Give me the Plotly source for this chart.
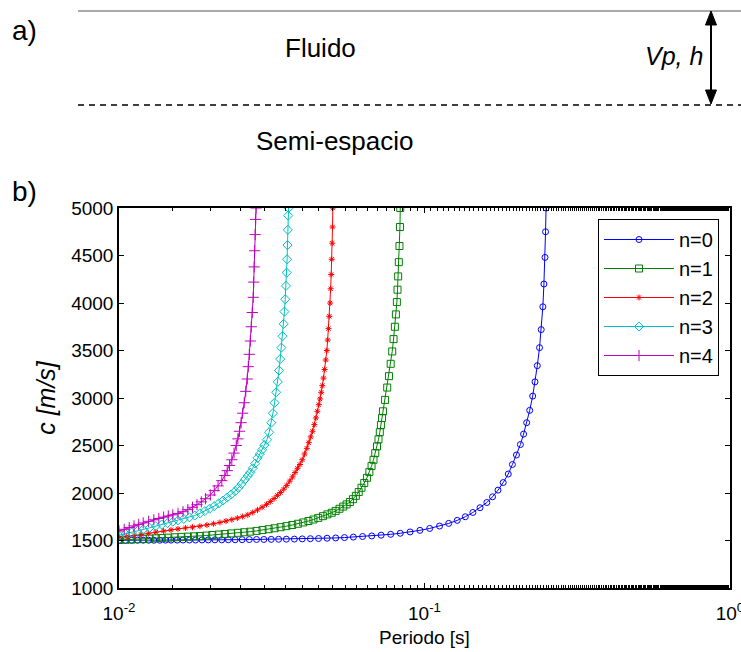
import plotly.graph_objects as go

# ---------------- data ----------------
T_n0 = [0.0100, 0.0105, 0.0110, 0.0115, 0.0120, 0.0125, 0.0130, 0.0136, 0.0142, 0.0148,
        0.0155, 0.0162, 0.0170, 0.0178, 0.0187, 0.0196, 0.0206, 0.0217, 0.0228, 0.0240,
        0.0253, 0.0267, 0.0282, 0.0298, 0.0315, 0.0333, 0.0353, 0.0375, 0.0398, 0.0423,
        0.0450, 0.0480, 0.0512, 0.0547, 0.0585, 0.0627, 0.0672, 0.0721, 0.0775, 0.0833,
        0.0897, 0.0966, 0.104, 0.112, 0.120, 0.128, 0.136, 0.144, 0.152, 0.160,
        0.167, 0.174, 0.181, 0.188, 0.194, 0.200, 0.206, 0.211, 0.216, 0.221,
        0.226, 0.230, 0.234, 0.238, 0.241, 0.244, 0.246, 0.248, 0.249, 0.250]
c_n0 = [1502, 1502, 1502, 1503, 1503, 1503, 1503, 1503, 1504, 1504,
        1504, 1505, 1505, 1505, 1506, 1506, 1507, 1507, 1508, 1508,
        1509, 1510, 1511, 1511, 1512, 1513, 1514, 1515, 1517, 1519,
        1521, 1524, 1527, 1531, 1536, 1542, 1548, 1556, 1565, 1576,
        1590, 1607, 1627, 1652, 1680, 1712, 1750, 1795, 1845, 1900,
        1960, 2030, 2110, 2200, 2300, 2400, 2510, 2620, 2740, 2870,
        3020, 3170, 3340, 3530, 3720, 3960, 4200, 4480, 4750, 5000]

T_n1 = [0.0100, 0.0105, 0.0110, 0.0115, 0.0120, 0.0126, 0.0132, 0.0138, 0.0145, 0.0152,
        0.0160, 0.0168, 0.0176, 0.0184, 0.0193, 0.0202, 0.0212, 0.0222, 0.0233, 0.0245,
        0.0257, 0.0269, 0.0282, 0.0295, 0.0309, 0.0323, 0.0338, 0.0353, 0.0369, 0.0385,
        0.0401, 0.0417, 0.0433, 0.0449, 0.0465, 0.0481, 0.0497, 0.0512, 0.0527, 0.0542,
        0.0556, 0.0570, 0.0583, 0.0596, 0.0609, 0.0622, 0.0635, 0.0648, 0.0660, 0.0671,
        0.0681, 0.0690, 0.0699, 0.0707, 0.0714, 0.0720, 0.0726, 0.0731, 0.0743, 0.0755,
        0.0765, 0.0775, 0.0784, 0.0792, 0.0800, 0.0806, 0.0812, 0.0816, 0.0820, 0.0824,
        0.0828, 0.0831, 0.0833]
c_n1 = [1505, 1508, 1511, 1514, 1517, 1520, 1523, 1527, 1530, 1534,
        1538, 1541, 1544, 1547, 1552, 1558, 1563, 1569, 1575, 1581,
        1587, 1593, 1601, 1610, 1619, 1629, 1640, 1651, 1663, 1676,
        1690, 1705, 1721, 1738, 1756, 1775, 1792, 1812, 1834, 1857,
        1880, 1905, 1935, 1970, 2010, 2055, 2105, 2160, 2220, 2285,
        2350, 2420, 2490, 2565, 2640, 2715, 2790, 2860, 2980, 3110,
        3230, 3360, 3490, 3620, 3750, 3880, 4010, 4140, 4280, 4430,
        4600, 4800, 5000]

T_n2 = [0.0100, 0.0106, 0.0112, 0.0118, 0.0125, 0.0132, 0.0140, 0.0148, 0.0156, 0.0165,
        0.0174, 0.0184, 0.0194, 0.0204, 0.0214, 0.0224, 0.0234, 0.0244, 0.0254, 0.0264,
        0.0274, 0.0284, 0.0294, 0.0304, 0.0313, 0.0322, 0.0330, 0.0338, 0.0346, 0.0354,
        0.0362, 0.0370, 0.0377, 0.0384, 0.0391, 0.0398, 0.0405, 0.0412, 0.0418, 0.0424,
        0.0430, 0.0436, 0.0441, 0.0446, 0.0451, 0.0455, 0.0459, 0.0463, 0.0467, 0.0471,
        0.0475, 0.0479, 0.0482, 0.0485, 0.0488, 0.0491, 0.0493, 0.0495, 0.0497, 0.0499,
        0.0500, 0.0501]
c_n2 = [1530, 1542, 1553, 1564, 1576, 1588, 1600, 1612, 1622, 1632,
        1640, 1650, 1663, 1676, 1690, 1705, 1720, 1736, 1752, 1770,
        1795, 1822, 1850, 1880, 1910, 1942, 1975, 2005, 2040, 2080,
        2125, 2170, 2215, 2260, 2300, 2350, 2410, 2470, 2530, 2590,
        2650, 2720, 2790, 2860, 2930, 2990, 3060, 3130, 3210, 3300,
        3400, 3500, 3610, 3730, 3860, 4000, 4150, 4300, 4460, 4630,
        4800, 5000]

T_n3 = [0.0100, 0.0105, 0.0110, 0.0115, 0.0120, 0.0126, 0.0132, 0.0138, 0.0144, 0.0150,
        0.0156, 0.0163, 0.0170, 0.0177, 0.0184, 0.0191, 0.0198, 0.0205, 0.0212, 0.0219,
        0.0226, 0.0233, 0.0240, 0.0246, 0.0252, 0.0258, 0.0264, 0.0269, 0.0274, 0.0279,
        0.0284, 0.0289, 0.0294, 0.0299, 0.0305, 0.0310, 0.0315, 0.0319, 0.0323, 0.0327,
        0.0331, 0.0334, 0.0337, 0.0340, 0.0343, 0.0346, 0.0348, 0.0350, 0.0352, 0.0354,
        0.0355, 0.0356, 0.0357, 0.0358, 0.0359]
c_n3 = [1555, 1570, 1585, 1600, 1616, 1634, 1652, 1668, 1683, 1698,
        1712, 1727, 1744, 1763, 1786, 1810, 1835, 1862, 1890, 1920,
        1952, 1985, 2020, 2055, 2095, 2140, 2180, 2215, 2260, 2310,
        2370, 2410, 2455, 2505, 2560, 2640, 2740, 2840, 2950, 3060,
        3170, 3290, 3410, 3530, 3650, 3780, 3910, 4040, 4180, 4320,
        4460, 4610, 4770, 4920, 5000]

T_n4 = [0.0100, 0.0104, 0.0108, 0.0112, 0.0116, 0.0120, 0.0125, 0.0130, 0.0135, 0.0140,
        0.0145, 0.0150, 0.0156, 0.0162, 0.0168, 0.0174, 0.0180, 0.0186, 0.0192, 0.0199,
        0.0205, 0.0211, 0.0217, 0.0222, 0.0226, 0.0230, 0.0234, 0.0238, 0.0242, 0.0245,
        0.0248, 0.0251, 0.0254, 0.0257, 0.0260, 0.0263, 0.0265, 0.0267, 0.0269, 0.0271,
        0.0273, 0.0275, 0.0276, 0.0277, 0.0278, 0.0279, 0.0280, 0.0281]
c_n4 = [1600, 1618, 1636, 1654, 1670, 1685, 1702, 1718, 1732, 1746,
        1758, 1770, 1785, 1803, 1825, 1850, 1877, 1907, 1940, 1979,
        2025, 2075, 2130, 2185, 2235, 2290, 2350, 2420, 2500, 2570,
        2650, 2740, 2840, 2950, 3070, 3200, 3330, 3460, 3600, 3750,
        3900, 4060, 4220, 4380, 4550, 4720, 4880, 5000]

mode_names = ["n=0", "n=1", "n=2", "n=3", "n=4"]
x_tickvals = [0.01, 0.1, 1]
x_ticktext = ["10<sup>-2</sup>", "10<sup>-1</sup>", "10<sup>0</sup>"]
y_tickvals = [1000, 1500, 2000, 2500, 3000, 3500, 4000, 4500, 5000]

# ---------------- styles ----------------
colors = ["#0000FF", "#008000", "#FF0000", "#00BFBF", "#BF00BF"]
symbols = ["circle-open", "square-open", "asterisk-open", "diamond-open", "cross-thin-open"]
sizes = [6, 7, 5, 7, 8]
FONT = "Liberation Sans, Arial, Helvetica, sans-serif"

W, H = 741, 652
PL, PR, PT, PB = 119, 730, 208, 588


def px(x):
    return (x - PL) / (PR - PL)


def py(y):
    return (PB - y) / (PB - PT)


fig = go.Figure()
series = [(T_n0, c_n0), (T_n1, c_n1), (T_n2, c_n2), (T_n3, c_n3), (T_n4, c_n4)]
for i, (T, c) in enumerate(series):
    fig.add_trace(go.Scatter(
        x=T, y=c, mode="lines+markers", name=mode_names[i],
        line=dict(color=colors[i], width=1),
        marker=dict(symbol=symbols[i], size=sizes[i], color=colors[i],
                    line=dict(width=1, color=colors[i])),
    ))

shapes = [
    dict(type="line", xref="paper", yref="paper", x0=px(78), x1=px(741), y0=py(11), y1=py(11),
         line=dict(color="#555555", width=1)),
    dict(type="line", xref="paper", yref="paper", x0=px(78), x1=px(741), y0=py(105), y1=py(105),
         line=dict(color="black", width=1.5, dash="6px,5px")),
    dict(type="line", xref="paper", yref="paper", x0=px(711), x1=px(711), y0=py(22), y1=py(94),
         line=dict(color="black", width=2)),
    dict(type="path", xref="paper", yref="paper",
         path=f"M {px(711)},{py(11)} L {px(705.5)},{py(25)} L {px(716.5)},{py(25)} Z",
         fillcolor="black", line=dict(color="black", width=1)),
    dict(type="path", xref="paper", yref="paper",
         path=f"M {px(711)},{py(104)} L {px(705.5)},{py(90)} L {px(716.5)},{py(90)} Z",
         fillcolor="black", line=dict(color="black", width=1)),
]

annotations = [
    dict(text="a)", x=px(10), y=py(30), xref="paper", yref="paper", xanchor="left", yanchor="middle",
         showarrow=False, font=dict(size=28, family=FONT, color="black")),
    dict(text="Fluido", x=px(320), y=py(48), xref="paper", yref="paper", xanchor="center", yanchor="middle",
         showarrow=False, font=dict(size=26, family=FONT, color="black")),
    dict(text="<i>Vp, h</i>", x=px(705), y=py(56), xref="paper", yref="paper", xanchor="right", yanchor="middle",
         showarrow=False, font=dict(size=25, family=FONT, color="black")),
    dict(text="Semi-espacio", x=px(335), y=py(141), xref="paper", yref="paper", xanchor="center", yanchor="middle",
         showarrow=False, font=dict(size=26, family=FONT, color="black")),
    dict(text="b)", x=px(10), y=py(191), xref="paper", yref="paper", xanchor="left", yanchor="middle",
         showarrow=False, font=dict(size=28, family=FONT, color="black")),
]

fig.update_layout(
    width=W, height=H,
    margin=dict(l=PL, r=W - PR, t=PT, b=H - PB, pad=0, autoexpand=False),
    paper_bgcolor="white", plot_bgcolor="white",
    font=dict(family=FONT, size=19, color="black"),
    shapes=shapes, annotations=annotations,
    legend=dict(x=px(598), y=py(219), xanchor="left", yanchor="top",
                bgcolor="white", bordercolor="black", borderwidth=1,
                font=dict(size=20, family=FONT, color="black"),
                itemwidth=70, tracegroupgap=0),
    showlegend=True,
)

fig.update_xaxes(
    type="log", range=[-2, 0], tickvals=x_tickvals, ticktext=x_ticktext,
    automargin=False,
    showline=True, linecolor="black", linewidth=1.5, mirror="ticks",
    ticks="inside", ticklen=5, tickcolor="black", showgrid=False, zeroline=False,
    minor=dict(ticks="inside", ticklen=3, tickcolor="black", showgrid=False),
    tickfont=dict(size=19, family=FONT), ticklabeloverflow="allow", ticklabelstandoff=7,
    title=dict(text="Periodo [s]", font=dict(size=19, family=FONT), standoff=8),
)
fig.update_yaxes(
    range=[1000, 5000], tickvals=y_tickvals, automargin=False,
    showline=True, linecolor="black", linewidth=1.5, mirror="ticks",
    ticks="inside", ticklen=5, tickcolor="black", showgrid=False, zeroline=False,
    tickfont=dict(size=19, family=FONT),
    title=dict(text="<i>c [m/s]</i>", font=dict(size=25, family=FONT), standoff=8),
)

fig.write_html("out.html")
